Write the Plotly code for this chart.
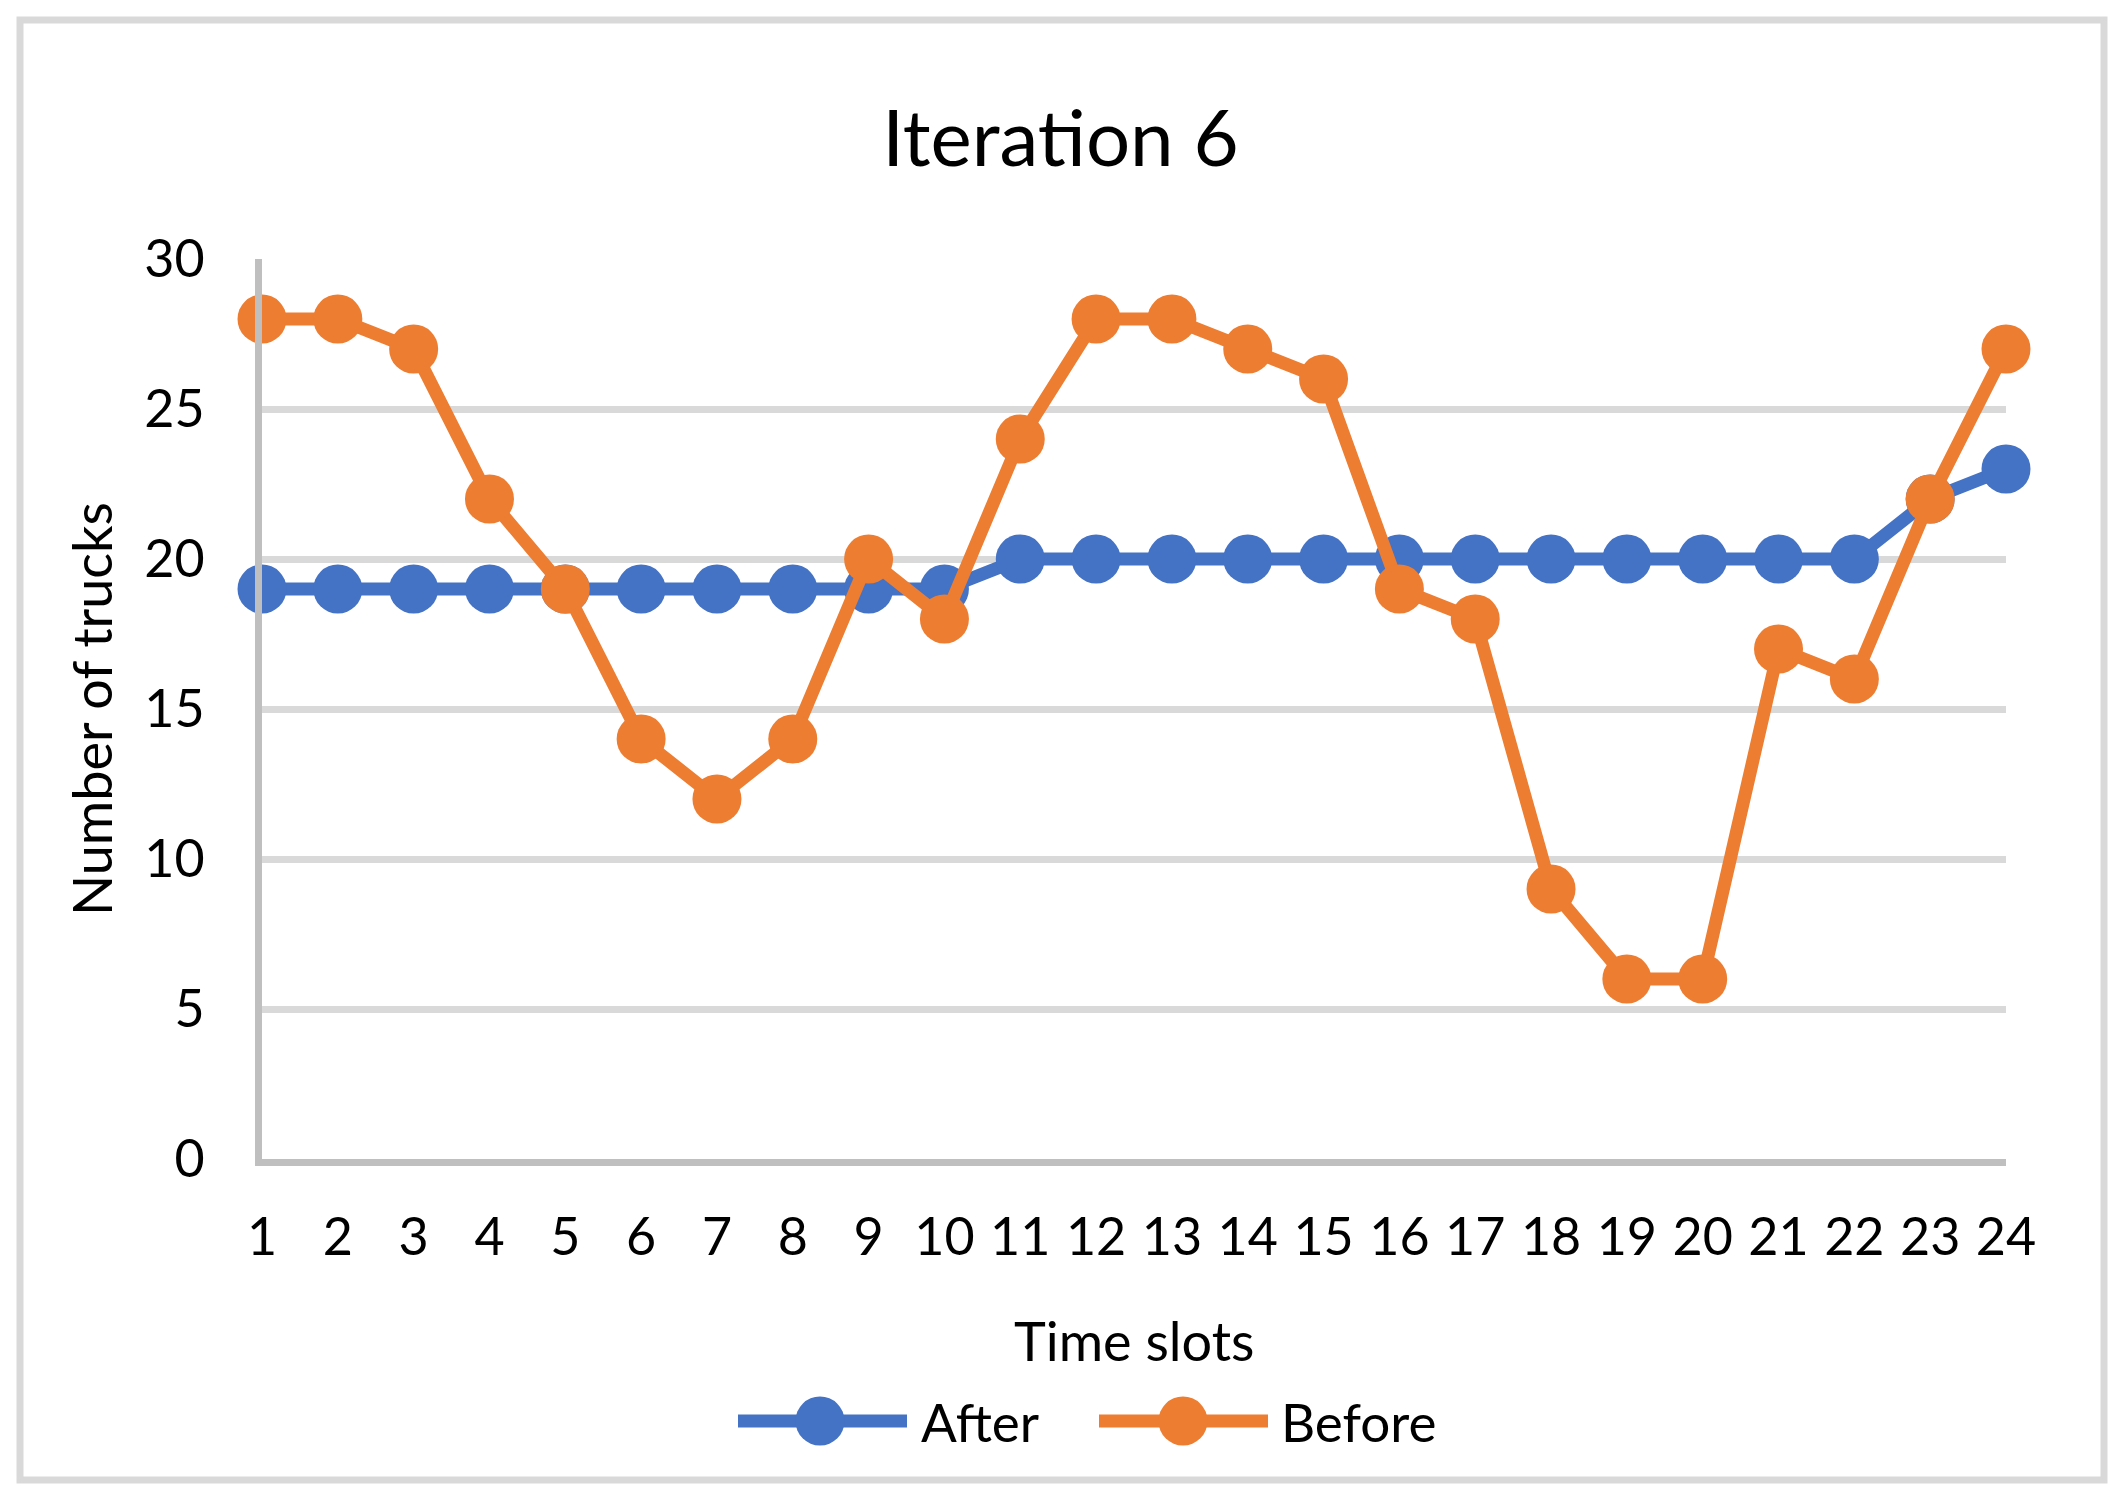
import plotly.graph_objects as go

time_slots = list(range(1, 25))
after = [19, 19, 19, 19, 19, 19, 19, 19, 19, 19, 20, 20, 20, 20, 20, 20, 20, 20, 20, 20, 20, 20, 22, 23]
before = [28, 28, 27, 22, 19, 14, 12, 14, 20, 18, 24, 28, 28, 27, 26, 19, 18, 9, 6, 6, 17, 16, 22, 27]
y_ticks = [0, 5, 10, 15, 20, 25, 30]
series_names = ["After", "Before"]

BLUE = "#4472C4"
ORANGE = "#ED7D31"
FONT = "Lato"
MSIZE = 49
LW = 13

# plot-area geometry (pixels) used for paper-coordinate decorations
L, R, T, B = 262, 2006, 259, 1159
PW, PH = R - L, B - T


def px(x):
    return (x - L) / PW


def py(y):
    return (B - y) / PH


fig = go.Figure()
fig.add_trace(go.Scatter(x=time_slots, y=after, name=series_names[0], mode="lines+markers",
                         line=dict(color=BLUE, width=LW), marker=dict(color=BLUE, size=MSIZE),
                         cliponaxis=False))
fig.add_trace(go.Scatter(x=time_slots, y=before, name=series_names[1], mode="lines+markers",
                         line=dict(color=ORANGE, width=LW), marker=dict(color=ORANGE, size=MSIZE),
                         cliponaxis=False))

# custom legend (long line swatches like the Excel original)
legend_y = py(1421)
legend_items = [
    (series_names[0], BLUE, 738, 907, 820, 919),
    (series_names[1], ORANGE, 1099, 1268, 1183, 1279),
]
shapes = [
    dict(type="rect", xref="paper", yref="paper",
         x0=px(20), x1=px(2104), y0=py(1480), y1=py(20),
         line=dict(color="#D9D9D9", width=7), fillcolor="rgba(0,0,0,0)", layer="below"),
]
annotations = [
    dict(text="Number of trucks", xref="paper", yref="paper", x=px(91), y=0.5,
         textangle=-90, showarrow=False, xanchor="center", yanchor="middle",
         font=dict(family=FONT, size=54, color="black")),
    dict(text="Time slots", xref="paper", yref="paper", x=0.5, y=py(1340),
         showarrow=False, xanchor="center", yanchor="middle",
         font=dict(family=FONT, size=54, color="black")),
]
for name, color, lx0, lx1, mx, tx in legend_items:
    shapes.append(dict(type="line", xref="paper", yref="paper", x0=px(lx0), x1=px(lx1),
                       y0=legend_y, y1=legend_y, line=dict(color=color, width=LW)))
    shapes.append(dict(type="circle", xref="paper", yref="paper", xsizemode="pixel", ysizemode="pixel",
                       xanchor=px(mx), yanchor=legend_y, x0=-MSIZE / 2, x1=MSIZE / 2,
                       y0=-MSIZE / 2, y1=MSIZE / 2, fillcolor=color, line=dict(width=0)))
    annotations.append(dict(text=name, xref="paper", yref="paper", x=px(tx), y=legend_y,
                            showarrow=False, xanchor="left", yanchor="middle",
                            font=dict(family=FONT, size=53, color="black")))

fig.update_layout(
    width=2121, height=1496,
    margin=dict(l=L, r=2121 - R, t=T, b=1496 - B),
    paper_bgcolor="white", plot_bgcolor="white",
    font=dict(family=FONT, size=52, color="black"),
    title=dict(text="Iteration 6", x=0.5, xanchor="center", y=1 - 139 / 1496, yanchor="middle",
               font=dict(family=FONT, size=78, color="black")),
    showlegend=False,
    xaxis=dict(range=[1, 24], tickvals=time_slots, ticktext=[str(t) for t in time_slots],
               showgrid=False, zeroline=False, showline=True, linecolor="#BFBFBF", linewidth=7,
               ticks="", ticklabelstandoff=27, tickfont=dict(size=52)),
    yaxis=dict(range=[0, 30], tickvals=y_ticks, showgrid=True, gridcolor="#D9D9D9", gridwidth=7,
               zeroline=False, showline=True, linecolor="#BFBFBF", linewidth=7,
               ticks="", ticklabelstandoff=40, tickfont=dict(size=52)),
    annotations=annotations,
    shapes=shapes,
)

fig.write_html("out.html", config={"displayModeBar": False},
               post_script="document.body.style.margin='0px';")
